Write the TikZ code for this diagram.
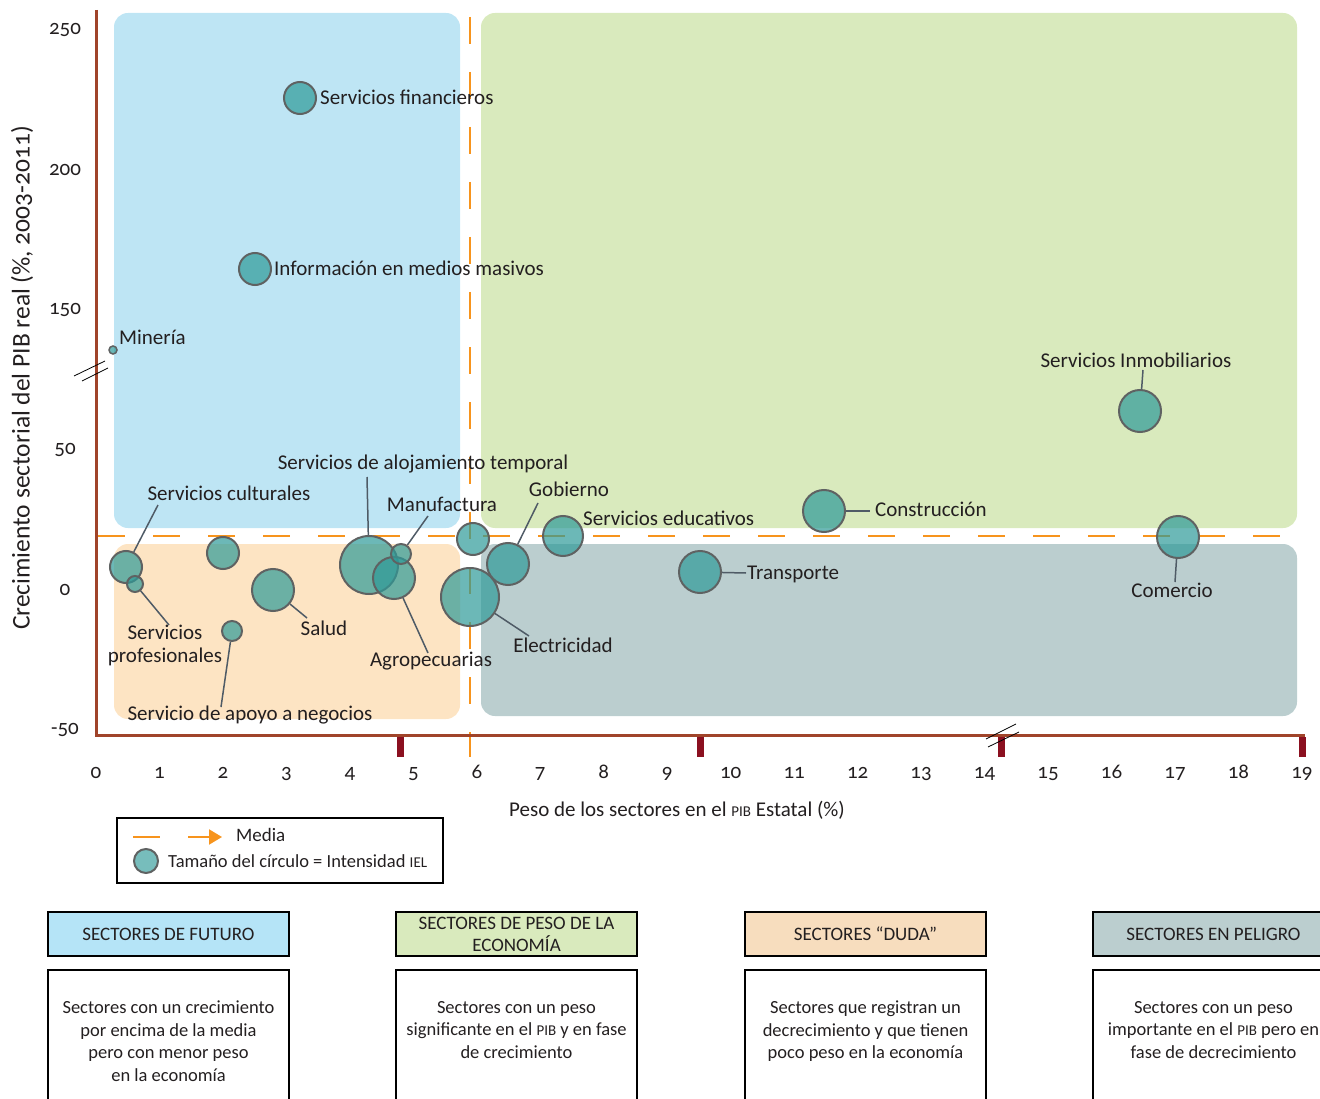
\documentclass[tikz,border=0pt]{standalone}
\usepackage{fontspec}
\setmainfont{Carlito}[Numbers=OldStyle]
\usetikzlibrary{positioning, arrows.meta}
\definecolor{axisbrown}{HTML}{A0442A}
\definecolor{tickred}{HTML}{8B1020}
\definecolor{mediaorange}{HTML}{F7941D}
\definecolor{futuroblue}{HTML}{BEE5F4}
\definecolor{futurohdr}{HTML}{B5E4F7}
\definecolor{pesogreen}{HTML}{D9EABD}
\definecolor{dudapeach}{HTML}{FDE4C3}
\definecolor{dudahdr}{HTML}{F7DDBE}
\definecolor{peligrogray}{HTML}{BBCECF}
\definecolor{bubteal}{HTML}{2E9A98}
\definecolor{bubedge}{HTML}{5F6262}
\definecolor{leadgray}{HTML}{4F5B66}
\definecolor{txt}{HTML}{231F20}
\newcommand{\smc}[1]{{\fontsize{15}{17}\selectfont #1}}

\begin{document}
\begin{tikzpicture}[
    x=1pt, y=-1pt,
    font=\fontsize{21}{24}\selectfont, text=txt,
    quad/.style={draw=none, rounded corners=14pt},
    media/.style={draw=mediaorange, line width=2pt, dash pattern=on 27pt off 28pt},
    bub/.style={circle, draw=bubedge, line width=2pt, fill=bubteal, fill opacity=0.7, inner sep=0pt},
    lead/.style={draw=leadgray, line width=1.5pt},
    lab/.style={inner sep=1pt},
    hdr/.style={draw=black, line width=2pt, minimum width=241pt, minimum height=44pt, align=center,
                font=\fontsize{19}{22}\selectfont},
    body/.style={draw=black, line width=2pt, minimum width=241pt, minimum height=142pt, align=center,
                font=\fontsize{18.5}{22.5}\selectfont},
    ]
    \useasboundingbox (0,0) rectangle (1320,1099);
    % quadrants
    \fill[quad, futuroblue] (114,13) rectangle (460,528);
    \fill[quad, pesogreen] (481,13) rectangle (1297,528);
    \fill[quad, dudapeach] (114,544) rectangle (460,719);
    \fill[quad, peligrogray] (481,544) rectangle (1297,716);
    % means
    \draw[media] (98,536) -- (1280,536);
    \draw[media] (470,17) -- (470,757);
    % axes
    \draw[axisbrown, line width=3pt] (96,10) -- (96,735) -- (1305,735);
    \foreach \x in {400,700,1001,1302}
      \fill[tickred] (\x-3.5,737) rectangle (\x+3.5,757);
    \draw[black, line width=0.8pt] (74,376) -- (105,361) (82,381) -- (108,368);
    \draw[black, line width=0.8pt] (986,739) -- (1016,724) (988,747) -- (1019,732);
    \foreach \v/\y in {250/30, 200/170, 150/310, 50/450, 0/590, -50/730}
      \node at (65,\y) {\v};
    \foreach \i in {0,...,19}
      \node[anchor=base] at (96+63.47*\i,778) {\i};
    \node[rotate=90, font=\fontsize{25.5}{30}\selectfont] (ytitle) at (22,378)
      {Crecimiento sectorial del PIB real (\%, 2003-2011)};
    \node (xtitle) at (677,810) {Peso de los sectores en el \smc{PIB} Estatal (\%)};

    % bubbles
    \node[bub, minimum size=32pt] (finan) at (300,98) {};
    \node[bub, minimum size=32pt] (info) at (255,269) {};
    \node[bub, minimum size=8pt, line width=1.5pt] (mineria) at (113,350) {};
    \node[bub, minimum size=42pt] (inmob) at (1140,411) {};
    \node[bub, minimum size=42pt] (comercio) at (1178,537) {};
    \node[bub, minimum size=42pt] (constr) at (824,511) {};
    \node[bub, minimum size=42pt] (transp) at (700,572) {};
    \node[bub, minimum size=40pt] (educ) at (563,536) {};
    \node[bub, minimum size=42pt] (gob) at (508,564) {};
    \node[bub, minimum size=32pt] (bubsin) at (473,539) {};
    \node[bub, minimum size=58pt] (elec) at (470,597) {};
    \node[bub, minimum size=58pt] (aloj) at (369,565) {};
    \node[bub, minimum size=42pt] (agro) at (394,578) {};
    \node[bub, minimum size=20pt] (manuf) at (401,554) {};
    \node[bub, minimum size=32pt] (cult) at (126,567) {};
    \node[bub, minimum size=16pt] (prof) at (135,584) {};
    \node[bub, minimum size=32pt] (bubdos) at (223,553) {};
    \node[bub, minimum size=42pt] (salud) at (273,590) {};
    \node[bub, minimum size=20pt] (apoyo) at (232,631) {};

    % labels
    \node[lab, anchor=west] (finanL) at (319,97) {Servicios financieros};
    \node[lab, anchor=west] (infoL) at (273,268) {Información en medios masivos};
    \node[lab, anchor=west] (mineriaL) at (118,337) {Minería};
    \node[lab] (inmobL) at (1136,360) {Servicios Inmobiliarios};
    \node[lab] (comercioL) at (1172,590) {Comercio};
    \node[lab, anchor=west] (constrL) at (874,509) {Construcción};
    \node[lab, anchor=west] (transpL) at (746,574) {Transporte};
    \node[lab, anchor=west] (educL) at (582,518) {Servicios educativos};
    \node[lab] (gobL) at (569,489) {Gobierno};
    \node[lab] (elecL) at (563,645) {Electricidad};
    \node[lab] (agroL) at (431,661) {Agropecuarias};
    \node[lab] (manufL) at (442,504) {Manufactura};
    \node[lab] (alojL) at (423,464) {Servicios de alojamiento temporal};
    \node[lab] (cultL) at (229,493) {Servicios culturales};
    \node[lab, align=center, font=\fontsize{21}{23}\selectfont] (profL) at (165,645) {Servicios\\profesionales};
    \node[lab] (saludL) at (324,628) {Salud};
    \node[lab] (apoyoL) at (250,715) {Servicio de apoyo a negocios};

    % leader lines
    \coordinate (inmobP) at (1143,370);
    \coordinate (comercioP) at (1175,582);
    \coordinate (constrP) at (870,511);
    \coordinate (transpP) at (746,573);
    \coordinate (gobP) at (538,503);
    \coordinate (elecP) at (529,636);
    \coordinate (agroP) at (428,653);
    \coordinate (manufP) at (428,516);
    \coordinate (alojP) at (367,477);
    \coordinate (cultP) at (158,505);
    \coordinate (profP) at (169,625);
    \coordinate (saludP) at (307,618);
    \coordinate (apoyoP) at (221,707);
    \foreach \b in {inmob,comercio,constr,transp,gob,elec,agro,manuf,aloj,cult,prof,salud,apoyo}
      \draw[lead] (\b) -- (\b P);

    % legend
    \node[draw=black, line width=2pt, minimum width=326pt, minimum height=65pt, inner sep=0pt] (legbox) at (280,850.5) {};
    \draw[mediaorange, line width=2pt] (133,837) -- (160,837);
    \draw[mediaorange, line width=2pt, -{Triangle[length=13pt, width=15pt]}] (188,837) -- (222,837);
    \node[lab, anchor=west, font=\fontsize{19}{22}\selectfont] (mediaL) at (235,835) {Media};
    \node[circle, draw=bubedge, line width=2pt, fill=bubteal!65!white, minimum size=24pt, inner sep=0pt] (legbub) at (146,861) {};
    \node[lab, anchor=west, font=\fontsize{18.5}{21}\selectfont] (legbubL) at (167,861) {Tamaño del círculo = Intensidad \smc{IEL}};

    % category boxes
    \node[hdr, fill=futurohdr] (futuro) at (168.5,934) {SECTORES DE FUTURO};
    \node[hdr, fill=pesogreen] (peso) at (516.5,934) {SECTORES DE PESO DE LA\\ECONOMÍA};
    \node[hdr, fill=dudahdr] (duda) at (865.5,934) {SECTORES “DUDA”};
    \node[hdr, fill=peligrogray] (peligro) at (1213.5,934) {SECTORES EN PELIGRO};
    \node[body, below=12pt of futuro] (futuroB) {Sectores con un crecimiento\\por encima de la media\\pero con menor peso\\en la economía};
    \node[body, below=12pt of peso] (pesoB) {Sectores con un peso\\significante en el \smc{PIB} y en fase\\de crecimiento\\\mbox{}};
    \node[body, below=12pt of duda] (dudaB) {Sectores que registran un\\decrecimiento y que tienen\\poco peso en la economía\\\mbox{}};
    \node[body, below=12pt of peligro] (peligroB) {Sectores con un peso\\importante en el \smc{PIB} pero en\\fase de decrecimiento\\\mbox{}};
\end{tikzpicture}
\end{document}
